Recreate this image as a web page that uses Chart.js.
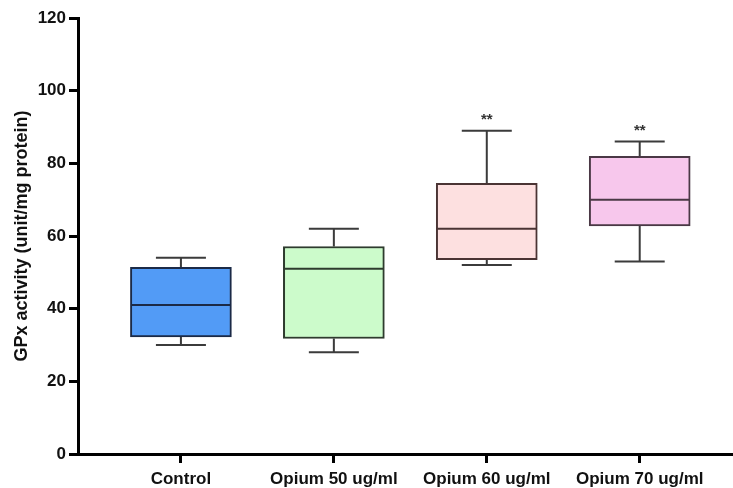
<!DOCTYPE html>
<html>
<head>
  <title>GPx activity</title>
  <script src="https://cdn.jsdelivr.net/npm/chart.js@4/dist/chart.umd.min.js"></script>
  <style>
    html, body { margin: 0; padding: 0; background: #fff; }
    #wrap { width: 733px; height: 488px; }
  </style>
</head>
<body>
<div id="wrap">
  <canvas id="myChart"></canvas>
</div>

<script>
  // box plot values
  const groups = ['Control', 'Opium 50 ug/ml', 'Opium 60 ug/ml', 'Opium 70 ug/ml'];
  const mins = [30, 28, 52, 53];
  const q1 = [32.2, 31.8, 53.5, 62.8];
  const medians = [41, 51, 62, 70];
  const q3 = [51.4, 57.1, 74.5, 81.9];
  const maxs = [54, 62, 89, 86];
  const marks = ['', '', '**', '**'];
  const yTicks = [0, 20, 40, 60, 80, 100, 120];

  const fills = ['#529bf6', '#ccfbcb', '#fde0e0', '#f7c7ec'];
  const borders = ['#1b2a47', '#2e3b2e', '#4a3434', '#4a3845'];

  const positions = groups.map((g, i) => i + 1);

  // whiskers, medians and stars on top of the floating bars
  const boxPlot = {
    id: 'boxPlot',
    beforeDatasetsDraw(chart) {
      const { ctx, scales: { x, y } } = chart;
      ctx.save();
      ctx.strokeStyle = '#3b3b3b';
      ctx.lineWidth = 2;
      positions.forEach((p, i) => {
        const px = x.getPixelForValue(p);
        ctx.beginPath();
        ctx.moveTo(px, y.getPixelForValue(mins[i]));
        ctx.lineTo(px, y.getPixelForValue(q1[i]));
        ctx.moveTo(px, y.getPixelForValue(q3[i]));
        ctx.lineTo(px, y.getPixelForValue(maxs[i]));
        ctx.moveTo(px - 25, y.getPixelForValue(mins[i]));
        ctx.lineTo(px + 25, y.getPixelForValue(mins[i]));
        ctx.moveTo(px - 25, y.getPixelForValue(maxs[i]));
        ctx.lineTo(px + 25, y.getPixelForValue(maxs[i]));
        ctx.stroke();
      });
      ctx.restore();
    },
    afterDatasetsDraw(chart) {
      const { ctx, scales: { x, y } } = chart;
      ctx.save();
      positions.forEach((p, i) => {
        const px = x.getPixelForValue(p);
        ctx.strokeStyle = borders[i];
        ctx.lineWidth = 2;
        ctx.beginPath();
        ctx.moveTo(px - 50, y.getPixelForValue(medians[i]));
        ctx.lineTo(px + 50, y.getPixelForValue(medians[i]));
        ctx.stroke();
        if (marks[i]) {
          ctx.fillStyle = '#333';
          ctx.font = 'bold 15px "Liberation Sans", Arial, sans-serif';
          ctx.textAlign = 'center';
          ctx.textBaseline = 'middle';
          ctx.fillText(marks[i], px, y.getPixelForValue(maxs[i]) - 11);
        }
      });
      ctx.restore();
    }
  };

  new Chart(document.getElementById('myChart').getContext('2d'), {
    type: 'bar',
    data: {
      datasets: [{
        data: positions.map((p, i) => ({ x: p, y: [q1[i], q3[i]] })),
        backgroundColor: fills,
        borderColor: borders,
        borderWidth: 2,
        borderSkipped: false,
        barThickness: 101
      }]
    },
    options: {
      responsive: true,
      maintainAspectRatio: false,
      animation: false,
      layout: { padding: { top: 18, right: 0, bottom: 0, left: 0 } },
      plugins: {
        legend: { display: false },
        tooltip: { enabled: false }
      },
      scales: {
        x: {
          type: 'linear',
          offset: false,
          min: 0.327,
          max: 4.61,
          afterBuildTicks: axis => { axis.ticks = positions.map(v => ({ value: v })); },
          afterFit: axis => { axis.height = 34; },
          ticks: {
            color: '#111',
            font: { family: '"Liberation Sans", Arial, sans-serif', size: 17, weight: 'bold' },
            padding: 6,
            maxRotation: 0,
            autoSkip: false,
            callback: v => groups[v - 1]
          },
          grid: { offset: false, drawOnChartArea: false, tickLength: 9, tickWidth: 3, tickColor: '#000' },
          border: { color: '#000', width: 3 }
        },
        y: {
          min: 0,
          max: 120,
          afterBuildTicks: axis => { axis.ticks = yTicks.map(v => ({ value: v })); },
          afterFit: axis => { axis.width = 78; },
          ticks: {
            color: '#111',
            font: { family: '"Liberation Sans", Arial, sans-serif', size: 17, weight: 'bold' },
            padding: 3
          },
          grid: { drawOnChartArea: false, tickLength: 9, tickWidth: 3, tickColor: '#000' },
          border: { color: '#000', width: 3 },
          title: {
            display: true,
            text: 'GPx activity (unit/mg protein)',
            color: '#111',
            font: { family: '"Liberation Sans", Arial, sans-serif', size: 18, weight: 'bold' },
            padding: { top: 11, bottom: 0 }
          }
        }
      }
    },
    plugins: [boxPlot]
  });
</script>
</body>
</html>
